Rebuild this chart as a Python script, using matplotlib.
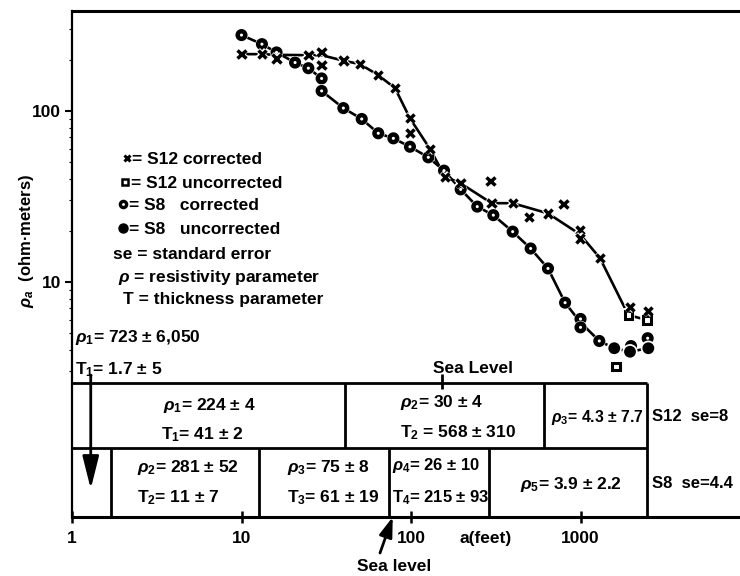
#!/usr/bin/env python3
"""Apparent resistivity vs electrode spacing for soundings S12 and S8, with layer table."""
import matplotlib

matplotlib.use("Agg")
import matplotlib.pyplot as plt
import matplotlib.patheffects as pe
import matplotlib.transforms as mtransforms
from matplotlib.ticker import FixedLocator, NullLocator
import numpy as np

plt.rcParams["font.family"] = ["Liberation Sans", "DejaVu Sans"]
plt.rcParams["font.weight"] = "bold"
plt.rcParams["mathtext.fontset"] = "custom"
plt.rcParams["mathtext.rm"] = "Liberation Sans:bold"
plt.rcParams["mathtext.it"] = "Liberation Sans:italic:bold"
plt.rcParams["mathtext.bf"] = "Liberation Sans:bold"

# ---- data (a in feet, rho_a in ohm-meters) ----
s12_corr_a = [10, 13.2, 16.1, 24.8, 29.7, 29.7, 39.9, 50.0, 64.1, 80.5, 98.6, 98.6, 129.5,
              158.7, 196, 295, 299, 398, 499, 643, 792, 993, 993, 1303, 1959, 2513]
s12_corr_rho = [215, 215, 203, 213, 222, 186, 197, 188, 162, 136, 90.6, 74.1, 60.0,
                41.3, 37.8, 39.1, 28.9, 28.9, 24.1, 25.2, 28.6, 20.1, 18.0, 13.8, 7.17, 6.77]
s12_unc_a = [1620, 1915, 2458]
s12_unc_rho = [3.2, 6.41, 6.0]

s8_corr_a = [10, 13.2, 16.1, 20.7, 24.8, 29.7, 29.7, 39.9, 51.2, 64.1, 78.7, 98.6, 126.5,
             156.6, 196.4, 246, 306, 398, 508, 643, 811, 1000, 1000, 1291, 1986, 2490]
s8_corr_rho = [278, 246, 220, 192, 178, 155, 131, 104, 89.8, 74.1, 69.2, 61.8, 53.6,
               44.8, 34.8, 27.6, 24.6, 19.7, 15.7, 12.0, 7.57, 6.08, 5.43, 4.52, 4.22, 4.69]
s8_unc_a = [1582, 1959, 2513]
s8_unc_rho = [4.10, 3.91, 4.10]

# hand-drawn smooth curves through the soundings
s12_curve_a = [10, 13.2, 16.1, 24.8, 29.7, 39.9, 50.0, 64.1, 80.5, 98.6, 129.5, 158.7, 196,
               299, 398, 643, 993, 1303, 1915, 2458]
s12_curve_rho = [215, 215, 213, 212, 212, 197, 188, 162, 136, 90.6, 60, 41.3, 37.8,
                 28.9, 28.9, 25.2, 19, 13.8, 6.41, 6.0]
s8_curve_a = [10, 13.2, 16.1, 20.7, 24.8, 29.7, 29.7, 39.9, 51.2, 64.1, 78.7, 98.6, 126.5,
              156.6, 196.4, 246, 306, 398, 508, 643, 811, 1000, 1291, 1582, 1959, 2513]
s8_curve_rho = [278, 246, 220, 192, 178, 155, 131, 104, 89.8, 74.1, 69.2, 61.8, 53.6,
                44.8, 34.8, 27.6, 24.6, 19.7, 15.7, 12.0, 7.57, 5.8, 4.52, 4.10, 3.91, 4.10]

# layer thicknesses (feet) used for the table boundaries
s12_thick = [41, 568]
s8_thick = [1.7, 11, 61, 215]
table_end_a = 2470
sea_level_s12 = 152
sea_level_s8 = 78

x_ticks = [1, 10, 100, 1000]
y_ticks = [10, 100]

W, H = 740, 576
FS = 12.5


def fxy(px, py):
    """Figure-pixel position -> figure fraction."""
    return px / W, 1 - py / H


fig = plt.figure(figsize=(W / 100, H / 100), dpi=100)
ax = fig.add_axes([72 / W, 1 - 517 / H, 1 - 72 / W, 506 / H])
ax.set_xscale("log")
ax.set_yscale("log")
ax.set_xlim(1, 10 ** (668 / 169.5))
ax.set_ylim(10 ** (2 - 406 / 171), 10 ** (2 + 100 / 171))

ax.spines["right"].set_visible(False)
ax.spines["top"].set_linewidth(2.2)
ax.spines["bottom"].set_linewidth(2.2)
ax.spines["left"].set_linewidth(1.6)

ax.set_xticks(x_ticks)
ax.set_xticklabels([str(t) for t in x_ticks])
ax.xaxis.set_minor_locator(NullLocator())
ax.set_yticks(y_ticks)
ax.set_yticklabels([str(t) for t in y_ticks])
ax.yaxis.set_minor_locator(FixedLocator([m * d for d in (1, 10, 100) for m in range(2, 10)
                                         if 3 <= m * d <= 300]))
ax.yaxis.set_minor_formatter(plt.NullFormatter())
ax.tick_params(axis="x", which="major", direction="inout", length=8, width=1.8,
               labelsize=12.5, pad=6)
ax.tick_params(axis="y", which="major", direction="out", length=5, width=1.5,
               labelsize=12.5, pad=3)
ax.tick_params(axis="y", which="minor", direction="out", length=2.5, width=0.8)

# ---- curves and markers ----
halo = [pe.withStroke(linewidth=4, foreground="white")]
ax.plot(s12_curve_a, s12_curve_rho, color="black", lw=1.9, zorder=2)
ax.plot(s8_curve_a, s8_curve_rho, color="black", lw=1.9, zorder=2)
ax.plot(s8_corr_a, s8_corr_rho, ls="none", marker="o", ms=5.5, mfc="white", mec="black",
        mew=3.2, zorder=3, path_effects=halo)
ax.plot(s8_unc_a, s8_unc_rho, ls="none", marker="o", ms=7, color="black", mew=1.5,
        zorder=4, path_effects=halo)
ax.plot(s12_unc_a, s12_unc_rho, ls="none", marker="s", ms=5.5, mfc="white", mec="black",
        mew=2.2, zorder=3, path_effects=halo)
ax.plot(s12_corr_a, s12_corr_rho, ls="none", marker="x", ms=6, mec="black",
        mew=2.5, zorder=5, path_effects=halo)

# ---- legend block (markers + text) ----
leg_kw = dict(transform=fig.transFigure, clip_on=False, ls="none", color="black")
ax.plot(*fxy(127, 158), marker="x", ms=5, mew=2.2, **leg_kw)
ax.plot(*fxy(125, 182), marker="s", ms=5, mfc="white", mew=1.8, **leg_kw)
ax.plot(*fxy(123, 204), marker="o", ms=4.5, mfc="white", mew=2.4, **leg_kw)
ax.plot(*fxy(123, 228), marker="o", ms=6.5, **leg_kw)

legend_lines = [
    ("= S12 corrected", 132, 158),
    ("= S12 uncorrected", 131, 182),
    ("= S8   corrected", 129, 204),
    ("= S8   uncorrected", 129, 228),
    ("se = standard error", 113, 253),
    (r"$\rho$ = resistivity parameter", 118, 275),
    ("T = thickness parameter", 123, 298),
]
for txt, px, py in legend_lines:
    fig.text(*fxy(px, py), txt, fontsize=FS, ha="left", va="center_baseline")

# ---- layer table ----
trans = mtransforms.blended_transform_factory(ax.transData, ax.transAxes)
row_top = (517 - 383) / 506
row_mid = (517 - 448) / 506
line_kw = dict(color="black", lw=2, transform=trans, clip_on=False, solid_capstyle="butt")
ax.plot([1, table_end_a], [row_top, row_top], **line_kw)
ax.plot([1, table_end_a], [row_mid, row_mid], **line_kw)
ax.plot([table_end_a, table_end_a], [0, row_top], **line_kw)
for b in np.cumsum(s12_thick):
    ax.plot([b, b], [row_mid, row_top], **line_kw)
for b in np.cumsum(s8_thick):
    ax.plot([b, b], [0, row_mid], **line_kw)

table_texts = [
    (r"$\rho_1$= 723 ± 6,050", 75, 335, FS),
    (r"T$_1$= 1.7 ± 5", 75, 367, FS),
    (r"$\rho_1$= 224 ± 4", 163, 403, FS),
    (r"T$_1$= 41 ± 2", 161, 432, FS),
    (r"$\rho_2$= 30 ± 4", 400, 400, FS),
    (r"T$_2$ = 568 ± 310", 400, 430, FS),
    (r"$\rho_3$= 4.3 ± 7.7", 551, 415, 11.3),
    ("S12  se=8", 652, 415, 12),
    (r"$\rho_2$= 281 ± 52", 137, 465, FS),
    (r"T$_2$= 11 ± 7", 137, 495, FS),
    (r"$\rho_3$= 75 ± 8", 287, 465, FS),
    (r"T$_3$= 61 ± 19", 287, 495, FS),
    (r"$\rho_4$= 26 ± 10", 392, 463, 12),
    (r"T$_4$= 215 ± 93", 392, 495, 12),
    (r"$\rho_5$= 3.9 ± 2.2", 520, 482, FS),
    ("S8  se=4.4", 652, 482, 12),
    ("Sea Level", 433, 367, FS),
    ("Sea level", 357, 565, FS),
    ("a(feet)", 460, 537, FS),
]
for txt, px, py, fs in table_texts:
    fig.text(*fxy(px, py), txt, fontsize=fs, ha="left", va="center_baseline")

# sea level markers
ax.plot([sea_level_s12, sea_level_s12], [(517 - 389) / 506, (517 - 374) / 506], **line_kw)
ax.annotate("", xy=(sea_level_s8, 0.0), xycoords=trans, xytext=fxy(380, 553),
            textcoords="figure fraction",
            arrowprops=dict(arrowstyle="-|>,head_length=0.6,head_width=0.2", lw=2,
                            color="black", mutation_scale=20, shrinkA=0, shrinkB=0))
# arrow from the top-layer estimate down into the S8 column
ax.annotate("", xy=(1.29, (517 - 489) / 506), xycoords=trans,
            xytext=(1.29, (517 - 375) / 506), textcoords=trans,
            arrowprops=dict(arrowstyle="-|>,head_length=1.0,head_width=0.25", lw=2,
                            color="black", mutation_scale=20, shrinkA=0, shrinkB=0))

fig.text(*fxy(27, 241), r"$\rho_a$  (ohm·meters)", fontsize=12, rotation=90,
         ha="center", va="center")

fig.savefig("out.png", dpi=100)
plt.close(fig)
